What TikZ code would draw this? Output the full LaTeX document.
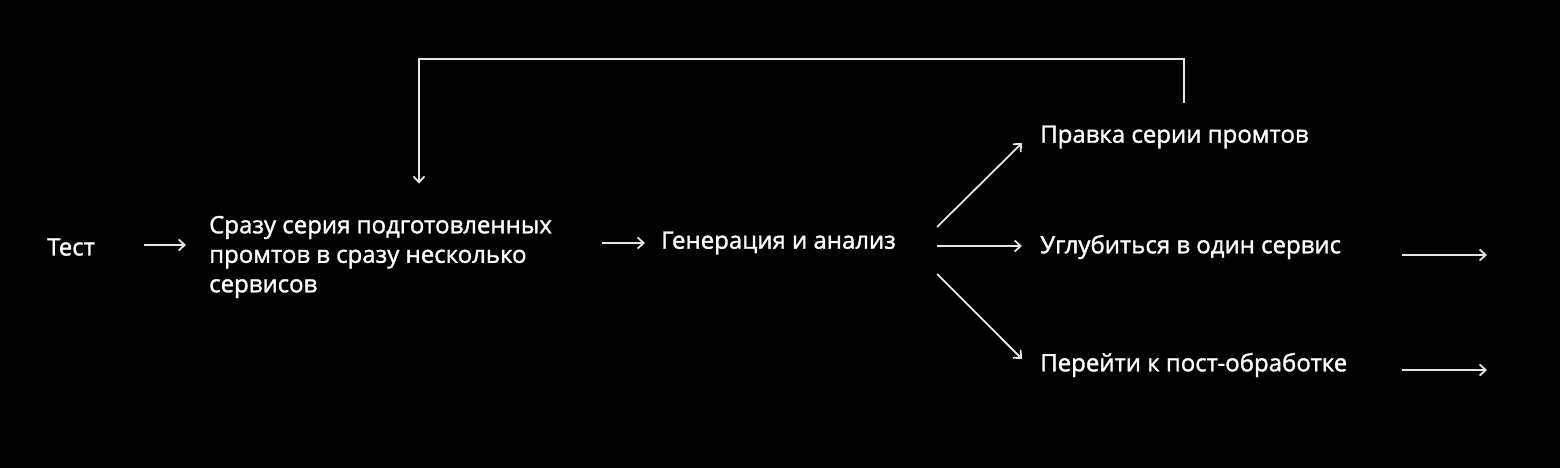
\documentclass[tikz,border=0pt]{standalone}
\usepackage{fontspec}
\setmainfont[FakeBold=1.4]{Open Sans}
\usepackage{tikz}
\usetikzlibrary{arrows.meta,positioning}

\begin{document}
\begin{tikzpicture}
	[x=1pt, y=-1pt, inner sep=0pt,
	font=\fontsize{24}{29.5}\selectfont,
	stage/.style	= {text=white, anchor=west, align=left},
	paths/.style	= {-{Straight Barb[length=6pt,width=11pt]}, draw=white!90!black, line width=1.8pt}]
	
	% background
	\fill [black] (0,0) rectangle (1560,468);
	
	\node at (47, 247)		[stage]	(test)	{Тест};
	\node at (209, 257)		[stage]	(series)	{Сразу серия подготовленных\\промтов в сразу несколько\\сервисов};
	\node at (661, 243)		[stage]	(gen)	{Генерация и анализ};
	
	\node at (1040, 137)	[stage]	(edit)	{Правка серии промтов};
	\node at (1040, 247)	[stage]	(deep)	{Углубиться в один сервис};
	\node at (1040, 365)	[stage]	(post)	{Перейти к пост-обработке};
	
	\coordinate (fwd)	at (1184, 59);
	\coordinate (back)	at (419, 59);
	\coordinate (deepa)	at (1402, 255);
	\coordinate (deepb)	at (1487, 255);
	\coordinate (posta)	at (1402, 370);
	\coordinate (postb)	at (1487, 370);
	
	\draw [paths, shorten <=49pt, shorten >=23pt] ([yshift=2pt]test.east) -- ([yshift=2pt]test.east -| series.west);
	\draw [paths, shorten <=50pt, shorten >=16pt] (series.east |- gen.west) -- (gen.west);
	
	\draw [paths] ([xshift=41pt, yshift=16pt]gen.east) -- ([xshift=-18pt, yshift=-6pt]edit.west);
	\draw [paths] ([xshift=41pt, yshift=-3pt]gen.east) -- ([xshift=-18pt, yshift=1pt]deep.west);
	\draw [paths] ([xshift=41pt, yshift=-31pt]gen.east) -- ([xshift=-18pt, yshift=6pt]post.west);
	
	\draw [paths] (deepa) -- (deepb);
	\draw [paths] (posta) -- (postb);
	
	\draw [paths, shorten <=22pt, shorten >=32pt] (edit.north -| fwd) -- (fwd) -- (back) -- (back |- series.north);
	
\end{tikzpicture}
\end{document}
